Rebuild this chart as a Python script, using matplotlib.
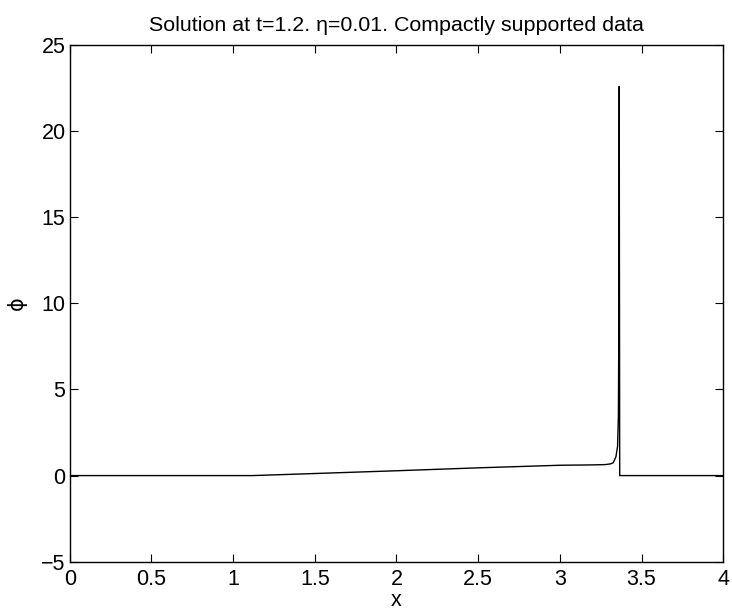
import matplotlib
matplotlib.use("Agg")
import matplotlib.pyplot as plt
import numpy as np

# solution profile
x = [0.0, 1.12, 1.5, 2.0, 2.5, 3.0, 3.2, 3.28, 3.31, 3.327, 3.343, 3.353,
     3.358, 3.361, 3.363, 3.366, 3.37, 4.0]
phi = [0.0, 0.0, 0.12, 0.28, 0.45, 0.6, 0.62, 0.64, 0.68, 0.75, 1.1, 1.7,
       3.5, 9.0, 22.6, 0.0, 0.0, 0.0]

xticks = np.arange(0, 4.01, 0.5)
xticklabels = ['0', '0.5', '1', '1.5', '2', '2.5', '3', '3.5', '4']
yticks = [-5, 0, 5, 10, 15, 20, 25]
yticklabels = ['\u22125', '0', '5', '10', '15', '20', '25']

plt.rcParams['font.family'] = ['Liberation Sans', 'DejaVu Sans']

fig = plt.figure(figsize=(7.32, 6.14), dpi=100)
ax = fig.add_axes([69.7 / 732, 1 - 561.7 / 614, (723.3 - 69.7) / 732, (561.7 - 45) / 614])
ax.plot(x, phi, 'k', lw=1.0)

ax.set_xlim(0, 4)
ax.set_ylim(-5, 25)
ax.set_xticks(xticks)
ax.set_xticklabels(xticklabels)
ax.set_yticks(yticks)
ax.set_yticklabels(yticklabels)
ax.tick_params(direction='in', top=True, right=True, length=6, width=0.8,
               labelsize=15.5)
ax.tick_params(axis='x', pad=5)
ax.tick_params(axis='y', pad=3)
for s in ax.spines.values():
    s.set_linewidth(1.0)

ax.set_xlabel('x', fontsize=15.5, labelpad=0)
ax.set_ylabel('\u03d5', fontsize=15, family=['DejaVu Sans'], labelpad=10)
ax.set_title('Solution at t=1.2. \u03b7=0.01. Compactly supported data',
             fontsize=15.4, pad=10)

fig.savefig('out.png', dpi=100)
